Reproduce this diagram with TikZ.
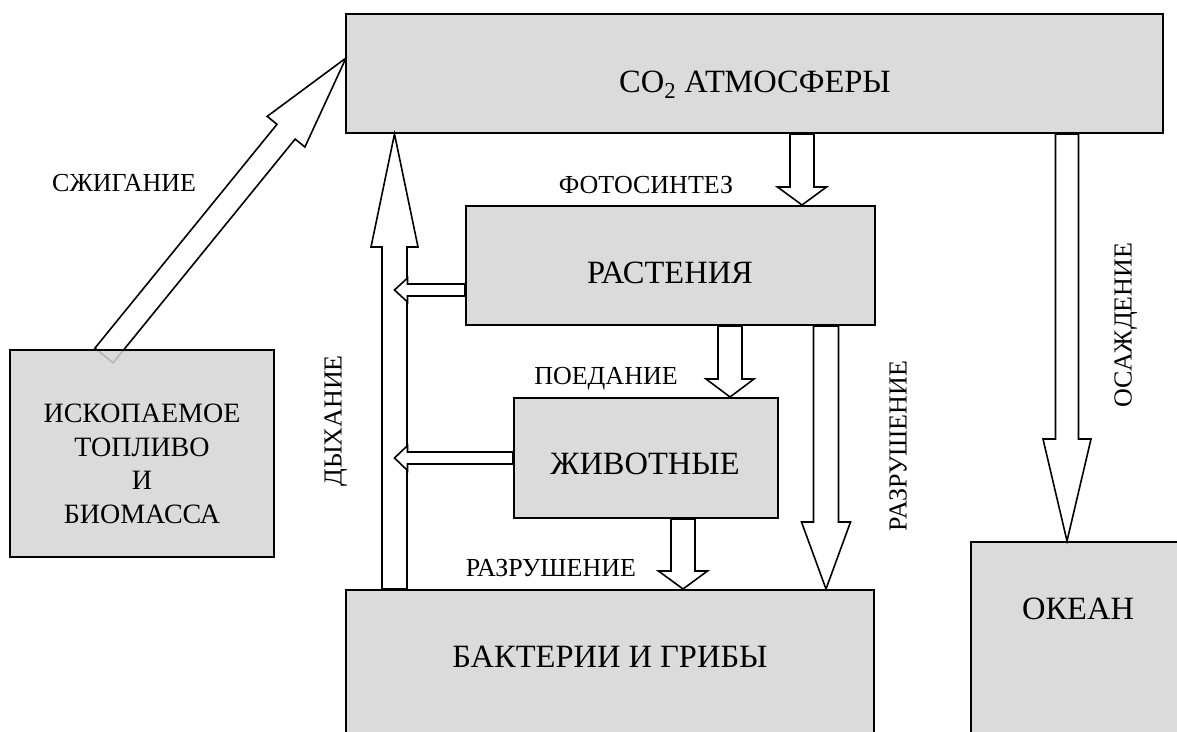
\documentclass[tikz,border=0pt]{standalone}
\usepackage{fontspec}
\setmainfont{Liberation Serif}
\usetikzlibrary{calc}

\definecolor{boxgray}{gray}{0.835}

\tikzset{
  box/.style={draw, line width=2pt, fill=boxgray, fill opacity=0.85, inner sep=0pt},
  fat/.style={draw, line width=1.6pt, fill=white, line join=miter},
  boxtext/.style={inner sep=0pt, text height=21pt, text depth=0pt, font=\fontsize{32.5}{38}\selectfont},
  lbl/.style={inner sep=0pt, text height=17pt, text depth=0pt, font=\fontsize{26}{30}\selectfont},
}

% block arrow: tail, tip, half shaft, half head, head length
\newcommand{\fatarrow}[5]{%
  \coordinate (hb) at ($(#2)!#5!(#1)$);
  \draw[fat] ($(#1)!#3!90:(#2)$) -- ($(hb)!#3!90:(#2)$) -- ($(hb)!#4!90:(#2)$) -- (#2)
    -- ($(hb)!#4!-90:(#2)$) -- ($(hb)!#3!-90:(#2)$) -- ($(#1)!#3!-90:(#2)$) -- cycle;
}

\begin{document}
\begin{tikzpicture}[x=1pt, y=-1pt]
\useasboundingbox (0,0) rectangle (1177,731);
\clip (0,0) rectangle (1177,731);

% Burning arrow (behind the fuel box)
\coordinate (burn-s) at (104,355.5);
\coordinate (burn-e) at (346,58);
\fatarrow{burn-s}{burn-e}{11.7pt}{24.3pt}{95pt}

% Define boxes
\node[box, minimum width=817, minimum height=119] (atm) at (754.5,73.5) {};
\node[box, minimum width=264, minimum height=207] (fuel) at (142,453.5) {};
\node[box, minimum width=409, minimum height=119] (plants) at (670.5,265.5) {};
\node[box, minimum width=264, minimum height=120] (animals) at (646,458) {};
\node[box, minimum width=528, minimum height=200] (bact) at (610,690) {};
\node[box, minimum width=259, minimum height=248] (ocean) at (1100.5,666) {};

% Arrow end points
\coordinate (photo-s) at (802,0 |- atm.south);
\coordinate (photo-e) at (802,0 |- plants.north);
\coordinate (sed-s) at (1067,0 |- atm.south);
\coordinate (sed-e) at (1067,0 |- ocean.north);
\coordinate (resp-s) at (394.5,0 |- bact.north);
\coordinate (resp-e) at (394.5,0 |- atm.south);
\coordinate (eat-s) at (730,0 |- plants.south);
\coordinate (eat-e) at (730,0 |- animals.north);
\coordinate (dec1-s) at (683,0 |- animals.south);
\coordinate (dec1-e) at (683,0 |- bact.north);
\coordinate (dec2-s) at (826,0 |- plants.south);
\coordinate (dec2-e) at (826,0 |- bact.north);
\coordinate (pl-s) at (plants.west |- 0,290);
\coordinate (pl-e) at (resp-s |- 0,290);
\coordinate (an-s) at (animals.west |- 0,458);
\coordinate (an-e) at (resp-s |- 0,458);

% Draw arrows
\fatarrow{photo-s}{photo-e}{12pt}{24.5pt}{18pt}
\fatarrow{sed-s}{sed-e}{11.5pt}{24pt}{102pt}
\fatarrow{resp-s}{resp-e}{12.5pt}{23.5pt}{113pt}
\fatarrow{eat-s}{eat-e}{12pt}{24pt}{18pt}
\fatarrow{dec1-s}{dec1-e}{12pt}{24.5pt}{18pt}
\fatarrow{dec2-s}{dec2-e}{12.5pt}{24.5pt}{67pt}
\fatarrow{pl-s}{pl-e}{6pt}{12pt}{13pt}
\fatarrow{an-s}{an-e}{6pt}{12.5pt}{13pt}

% Box texts
\node[boxtext] (atm-t) at (755,82) {CO\textsubscript{2} АТМОСФЕРЫ};
\node[inner sep=0pt, align=center, font=\fontsize{28}{33.5}\selectfont] (fuel-t) at (142,464) {ИСКОПАЕМОЕ\\ТОПЛИВО\\И\\БИОМАССА};
\node[boxtext] (plants-t) at (670,273) {РАСТЕНИЯ};
\node[boxtext] (animals-t) at (645,464) {ЖИВОТНЫЕ};
\node[boxtext] (bact-t) at (610,657) {БАКТЕРИИ И ГРИБЫ};
\node[boxtext] (ocean-t) at (1078,609) {ОКЕАН};

% Flow labels
\node[lbl, anchor=west] (burn-l) at (52,183) {СЖИГАНИЕ};
\node[lbl] (photo-l) at (646,185) {ФОТОСИНТЕЗ};
\node[lbl] (eat-l) at (606,376) {ПОЕДАНИЕ};
\node[lbl] (dec1-l) at (551,568) {РАЗРУШЕНИЕ};
\node[lbl, rotate=90] (resp-l) at (333,421) {ДЫХАНИЕ};
\node[lbl, rotate=90] (dec2-l) at (898,446) {РАЗРУШЕНИЕ};
\node[lbl, rotate=90] (sed-l) at (1123,325) {ОСАЖДЕНИЕ};
\end{tikzpicture}
\end{document}
